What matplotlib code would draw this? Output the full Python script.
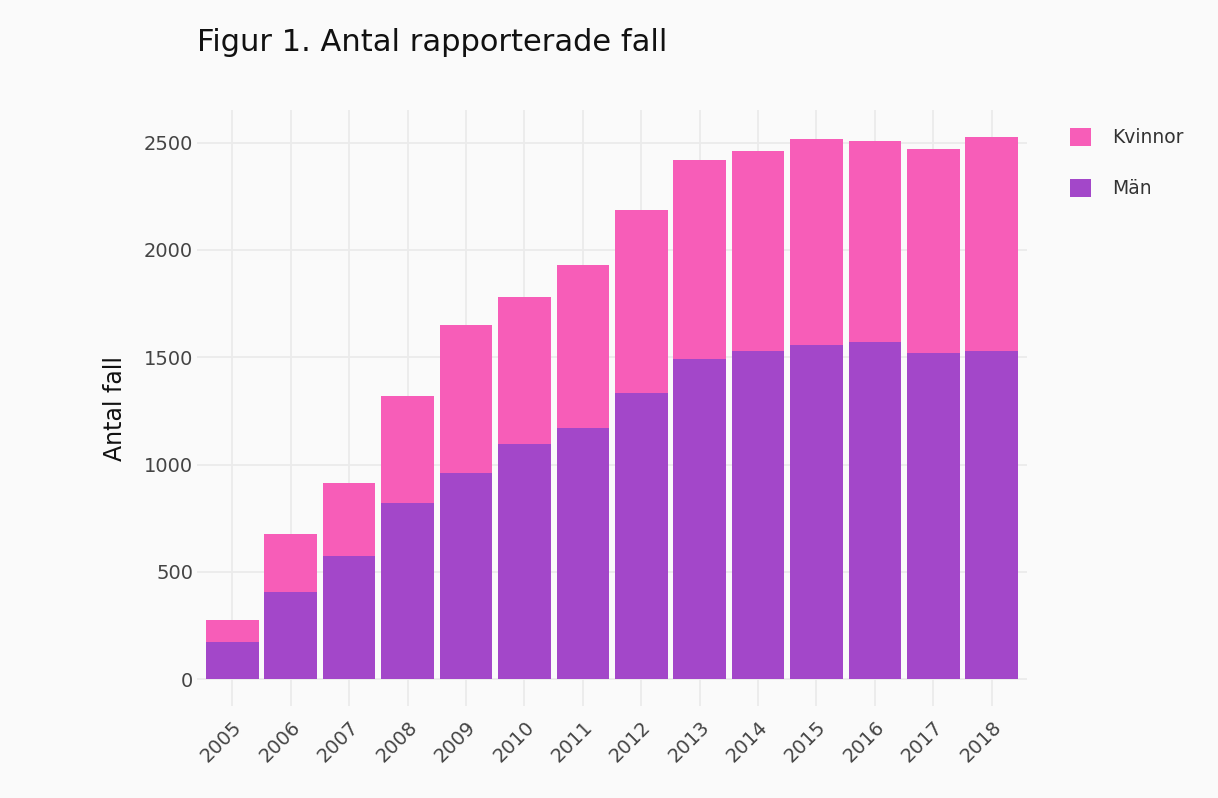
import matplotlib.pyplot as plt
import numpy as np

# data
years = ['2005', '2006', '2007', '2008', '2009', '2010', '2011',
         '2012', '2013', '2014', '2015', '2016', '2017', '2018']
man = [173, 406, 575, 822, 960, 1097, 1170, 1335, 1490, 1528, 1558, 1573, 1519, 1530]
kvinnor = [104, 268, 340, 499, 691, 683, 760, 852, 928, 933, 960, 936, 949, 995]

col_man = '#a347c9'
col_kv = '#f75db8'
bg = '#fafafa'

plt.rcParams['font.family'] = ['DejaVu Sans']

fig = plt.figure(figsize=(12.18, 7.98), dpi=100, facecolor=bg)
ax = fig.add_axes([0.162, 0.115, 0.681, 0.747], facecolor=bg)

x = np.arange(len(years))
ax.bar(x, man, width=0.9, color=col_man, label='Män', zorder=2)
ax.bar(x, kvinnor, width=0.9, bottom=man, color=col_kv, label='Kvinnor', zorder=2)

ymax = max(np.array(man) + np.array(kvinnor))
ax.set_ylim(-0.05 * ymax, 1.05 * ymax)
ax.set_xlim(-0.6, len(years) - 0.4)
ax.set_yticks([0, 500, 1000, 1500, 2000, 2500])
ax.set_xticks(x)
ax.set_xticklabels(years, rotation=45, ha='right', va='top', rotation_mode='anchor')
ax.tick_params(axis='both', length=0, labelsize=14, colors='#444444')
ax.tick_params(axis='y', pad=3)
ax.tick_params(axis='x', pad=8)
ax.grid(True, color='#ebebeb', linewidth=1.3, zorder=0)
ax.set_axisbelow(True)
for s in ax.spines.values():
    s.set_visible(False)

ax.set_ylabel('Antal fall', fontsize=17, color='#111111', labelpad=12)

fig.text(0.162, 0.947, 'Figur 1. Antal rapporterade fall', fontsize=22,
         color='#111111', ha='left', va='center')

h, l = ax.get_legend_handles_labels()
leg = fig.legend(h[::-1], l[::-1], loc='upper left', bbox_to_anchor=(0.865, 0.861),
                 frameon=False, fontsize=13.5, handlelength=1.1, handleheight=1.1,
                 labelspacing=1.7, handletextpad=1.1)
for t in leg.get_texts():
    t.set_color('#333333')

fig.savefig('out.png', dpi=100, facecolor=bg)
